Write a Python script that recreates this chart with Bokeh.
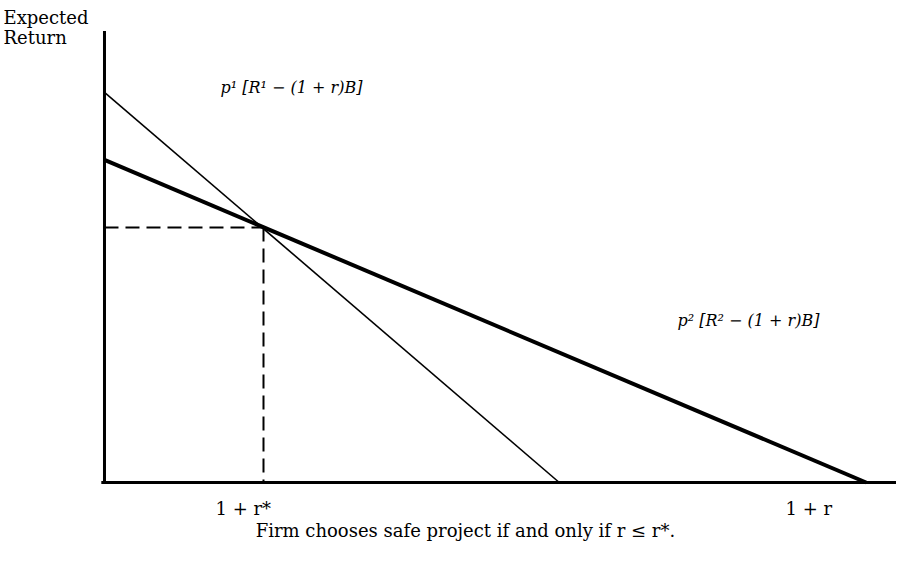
from bokeh.plotting import figure
from bokeh.embed import file_html
from bokeh.resources import INLINE
from bokeh.core.properties import value

# Schematic values (axis units: 1 + r on x, expected return on y)
r_star = 1.0                 # 1 + r* position
ret_star = 1.0               # expected return at crossing
risky_intercept = 1.53       # p1[R1 - (1+r)B] at origin
risky_zero = 2.86            # where risky project return hits zero
safe_intercept = 1.265       # p2[R2 - (1+r)B] at origin
safe_zero = 4.79             # where safe project return hits zero
y_axis_top = 1.77
x_axis_end = 5.1

risky_label = "p¹ [R¹ − (1 + r)B]"
safe_label = "p² [R² − (1 + r)B]"
tick_labels = ["1 + r*", "1 + r"]
tick_pos = [0.698, 4.283]
y_label = ["Expected", "Return"]
caption = "Firm chooses safe project if and only if r ≤ r*."

SERIF = value("DejaVu Serif")

p = figure(width=896, height=546, output_backend="svg", toolbar_location=None,
           x_range=(-0.654, 4.981), y_range=(-0.251, 1.890),
           min_border=0, outline_line_color=None)
p.axis.visible = False
p.grid.visible = False

# axes
p.line([0, 0], [0, y_axis_top], line_color="black", line_width=3)
p.line([-0.02, x_axis_end], [0, 0], line_color="black", line_width=3)

# lines
p.line([0, risky_zero], [risky_intercept, 0], line_color="black", line_width=1.6)
p.line([0, safe_zero], [safe_intercept, 0], line_color="black", line_width=4)

# dashed guides
p.line([0, r_star], [ret_star, ret_star], line_color="black", line_width=2, line_dash="14 7")
p.line([r_star, r_star], [ret_star, 0], line_color="black", line_width=2, line_dash="14 7")

# texts
p.text(x=[-0.635, -0.635], y=[1.824, 1.745], text=y_label, text_font=SERIF,
       text_font_size="18px", text_baseline="middle", text_align="left")
p.text(x=[0.73], y=[1.549], text=[risky_label], text_font=SERIF,
       text_font_style="italic", text_font_size="16px", text_baseline="middle", text_align="left")
p.text(x=[3.604], y=[0.635], text=[safe_label], text_font=SERIF,
       text_font_style="italic", text_font_size="16px", text_baseline="middle", text_align="left")
p.text(x=tick_pos, y=[-0.102, -0.102], text=tick_labels, text_font=SERIF,
       text_font_size="18px", text_baseline="middle", text_align="left")
p.text(x=[2.27], y=[-0.190], text=[caption], text_font=SERIF,
       text_font_size="18px", text_baseline="middle", text_align="center")

open("out.html", "w").write(file_html(p, INLINE))
